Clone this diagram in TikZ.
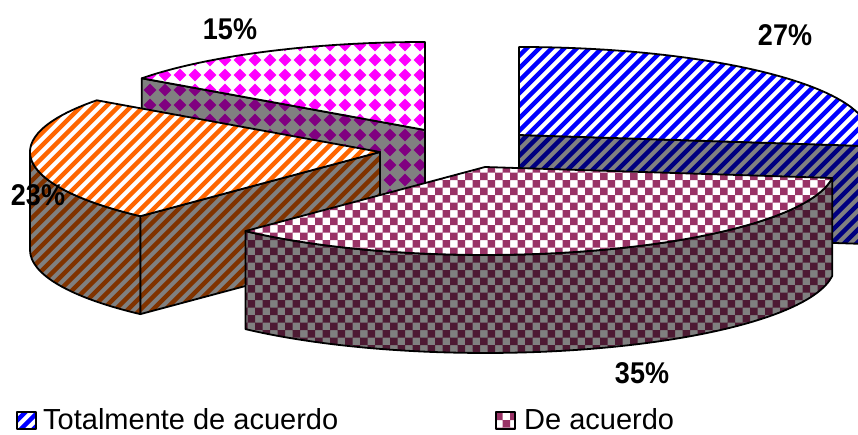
\documentclass[tikz,border=0pt]{standalone}
\usepackage{fontspec}
\setmainfont{Liberation Sans}
\usetikzlibrary{calc}

\definecolor{cBlue}{RGB}{0,0,255}
\definecolor{cBlueD}{RGB}{0,0,128}
\definecolor{cOrange}{RGB}{255,102,0}
\definecolor{cOrangeD}{RGB}{128,51,0}
\definecolor{cMag}{RGB}{255,0,255}
\definecolor{cMagD}{RGB}{128,0,128}
\definecolor{cPink}{RGB}{153,51,102}
\definecolor{cPinkD}{RGB}{77,26,51}
\definecolor{cSide}{RGB}{128,128,128}

\tikzset{
  outl/.style={draw=black, line width=1.8pt, line join=round},
  stripe/.style={line width=4.3pt},
  pct/.style={anchor=base, inner sep=0pt, font=\fontsize{30}{30}\selectfont\bfseries},
  legtext/.style={anchor=base west, inner sep=0pt, font=\fontsize{29}{29}\selectfont},
  rad/.style={x radius=350, y radius=88}
}

% #1 path, #2 background colour, #3 pattern colour
\newcommand{\stripeface}[3]{%
  \begin{scope}
    \clip #1;
    \fill[#2] (0,0) rectangle (858,434);
    \foreach \c in {0,12.5,...,1300} \draw[#3, stripe] (\c,0) -- (\c-440,440);
  \end{scope}
  \draw[outl] #1;
}
\newcommand{\checkface}[3]{%
  \begin{scope}
    \clip #1;
    \fill[#2] (0,0) rectangle (858,434);
    \fill[#3, even odd rule]
      \foreach \k in {0,...,29} {(0,\k*15) rectangle (858,\k*15+7.5)}
      \foreach \k in {0,...,58} {(\k*15,0) rectangle (\k*15+7.5,434)};
  \end{scope}
  \draw[outl] #1;
}
\newcommand{\diamface}[3]{%
  \begin{scope}
    \clip #1;
    \fill[#2] (0,0) rectangle (858,434);
    \fill[#3]
      \foreach \i in {9,...,29} {\foreach \j in {2,...,16}
        {(\i*15,\j*15) +(0,-6.4) -- +(6.4,0) -- +(0,6.4) -- +(-6.4,0) -- cycle}};
  \end{scope}
  \draw[outl] #1;
}

\begin{document}
\begin{tikzpicture}[x=1pt, y=-1pt]
\useasboundingbox (0,0) rectangle (858,434);
\clip (0,0) rectangle (858,434);

% ---------- magenta slice (15%) ----------
\coordinate (Cm) at (425,130);
\coordinate (Mr) at ($(Cm)+(-283.2,-51.7)$);
\diamface{(Cm) -- (Mr) -- ($(Mr)+(0,98)$) -- ($(Cm)+(0,98)$) -- cycle}{cSide}{cMagD}
\diamface{(Cm) -- ++(0,-88) arc[start angle=-90, end angle=-144, rad] -- cycle}{white}{cMag}

% ---------- blue slice (27%) ----------
\coordinate (Cb) at (519,135);
\coordinate (Br) at ($(Cb)+(347.2,11.0)$);
\stripeface{(Cb) -- (Br) -- ($(Br)+(0,98)$) -- ($(Cb)+(0,98)$) -- cycle}{cSide}{cBlueD}
\stripeface{(Cb) -- ++(0,-88) arc[start angle=-90, end angle=7.2, rad] -- cycle}{white}{cBlue}

% ---------- orange slice (23%) ----------
\coordinate (Co) at (380,152);
\coordinate (Oa) at ($(Co)+(-283.2,-51.7)$);
\coordinate (Ol) at ($(Co)+(-350,0)$);
\coordinate (Ob) at ($(Co)+(-239.6,64.1)$);
\stripeface{(Ol) arc[start angle=-180, end angle=-226.8, rad] -- ++(0,98) arc[start angle=-226.8, end angle=-180, rad] -- cycle}{cSide}{cOrangeD}
\stripeface{(Co) -- (Ob) -- ($(Ob)+(0,98)$) -- ($(Co)+(0,98)$) -- cycle}{cSide}{cOrangeD}
\stripeface{(Co) -- (Oa) arc[start angle=-144, end angle=-226.8, rad] -- cycle}{white}{cOrange}

% ---------- pink slice (35%) ----------
\coordinate (Cp) at (485,167);
\coordinate (Pl) at ($(Cp)+(-239.6,64.1)$);
\checkface{(Pl) arc[start angle=133.2, end angle=7.2, rad] -- ++(0,98) arc[start angle=7.2, end angle=133.2, rad] -- cycle}{cSide}{cPinkD}
\checkface{(Cp) -- (Pl) arc[start angle=133.2, end angle=7.2, rad] -- cycle}{white}{cPink}

% ---------- percentage labels ----------
\node[pct] (l15) at (230,39) {\scalebox{0.9}[1]{15\%}};
\node[pct] (l27) at (785,45) {\scalebox{0.9}[1]{27\%}};
\node[pct] (l23) at (38,205) {\scalebox{0.9}[1]{23\%}};
\node[pct] (l35) at (642,383) {\scalebox{0.9}[1]{35\%}};

% ---------- legend ----------
\coordinate (lgA) at (17,412);
\stripeface{(lgA) rectangle ++(19,17)}{white}{cBlue}
\node[legtext] (lgAt) at (43,429) {Totalmente de acuerdo};
\coordinate (lgB) at (496,412);
\checkface{(lgB) rectangle ++(19,17)}{white}{cPink}
\node[legtext] (lgBt) at (524,429) {De acuerdo};
\end{tikzpicture}
\end{document}
